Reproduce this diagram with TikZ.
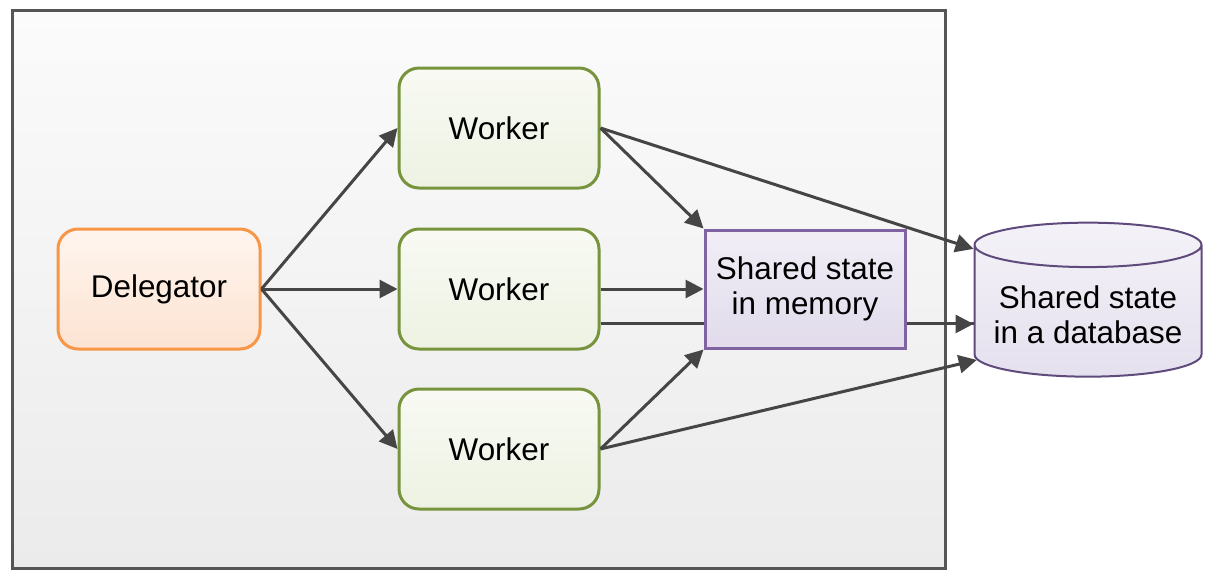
\documentclass[tikz,border=0pt]{standalone}
\usepackage{fontspec}
\setmainfont{Liberation Sans}
\usepackage{tikz}
\usetikzlibrary{shapes.geometric,arrows.meta}
\definecolor{panelline}{HTML}{555555}
\definecolor{paneltop}{HTML}{FBFBFB}
\definecolor{panelbot}{HTML}{EBEBEB}
\definecolor{orangeline}{HTML}{F79646}
\definecolor{orangetop}{HTML}{FFF5EE}
\definecolor{orangebot}{HTML}{FCE3D2}
\definecolor{greenline}{HTML}{77933C}
\definecolor{greentop}{HTML}{F8FAF3}
\definecolor{greenbot}{HTML}{EDF2E3}
\definecolor{purpleline}{HTML}{8064A2}
\definecolor{purpletop}{HTML}{F1EEF6}
\definecolor{purplebot}{HTML}{E1DBEB}
\definecolor{dbline}{HTML}{5F4A7C}
\definecolor{dbtop}{HTML}{F4F2F8}
\definecolor{dbbot}{HTML}{E5E0EE}
\definecolor{arrowgray}{HTML}{454545}
\tikzset{
  panel/.style={draw=panelline, line width=1.5pt, top color=paneltop, bottom color=panelbot},
  box/.style={line width=1.5pt, align=center, font=\fontsize{15.7}{17.5}\selectfont},
  delegbox/.style={box, draw=orangeline, top color=orangetop, bottom color=orangebot,
    rounded corners=10pt, minimum width=101pt, minimum height=60pt},
  workerbox/.style={box, draw=greenline, top color=greentop, bottom color=greenbot,
    rounded corners=10pt, minimum width=100pt, minimum height=60pt},
  membox/.style={box, draw=purpleline, top color=purpletop, bottom color=purplebot,
    minimum width=100pt, minimum height=59pt},
  dbbox/.style={box, draw=dbline, line width=1pt, top color=dbtop, bottom color=dbbot,
    cylinder, shape border rotate=90, aspect=0.22, minimum width=113.5pt, minimum height=77pt},
  link/.style={draw=arrowgray, line width=1.5pt, -{Triangle[length=9pt,width=9pt]}},
  plainlink/.style={draw=arrowgray, line width=1.5pt},
}
\begin{document}
\begin{tikzpicture}[x=0.5pt,y=-0.5pt]
  \useasboundingbox (0,0) rectangle (1214,580);
  \draw[panel] (12,10) rectangle (945,568);

  \node[delegbox] (deleg) at (159,289) {Delegator};
  \node[workerbox] (w1) at (499,128) {Worker};
  \node[workerbox] (w2) at (499,289) {Worker};
  \node[workerbox] (w3) at (499,449) {Worker};
  \node[dbbox] (db) at (1088,315) {Shared state\\in a database};

  \draw[plainlink] (w2.-19.3) -- (w2.-19.3 -| db.west);
  \node[membox] (mem) at (805,289) {Shared state\\in memory};

  \draw[link] (deleg.east) -- (w1.west);
  \draw[link] (deleg.east) -- (w2.west);
  \draw[link] (deleg.east) -- (w3.west);
  \draw[link] (w1.east) -- (mem.north west);
  \draw[link] (w2.east) -- (mem.west);
  \draw[link] (w3.east) -- (mem.south west);
  \draw[link] (w1.east) -- (db.150);
  \draw[link] (w3.east) -- (db.202);
  \draw[link] (mem.east |- w2.-19.3) -- (w2.-19.3 -| db.west);
\end{tikzpicture}
\end{document}
